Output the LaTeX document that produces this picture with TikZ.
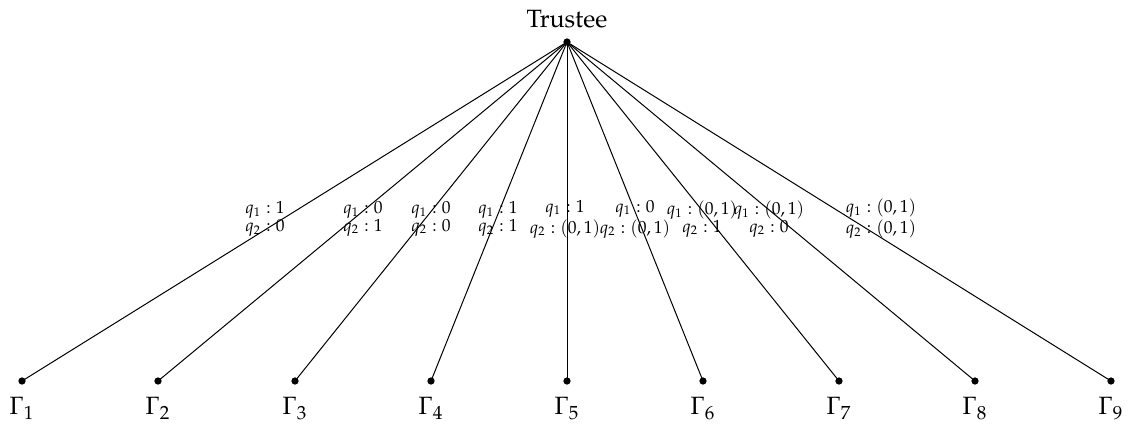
\documentclass[tikz,border=0pt]{standalone}
\usepackage[T1]{fontenc}
\usepackage{mathpazo}
\begin{document}
\begin{tikzpicture}[x=0.4pt,y=-0.4pt,
  dot/.style={circle,fill=black,inner sep=0pt,minimum size=2.9pt},
  leaflabel/.style={anchor=north,inner sep=0pt,font=\normalsize},
  elabel/.style={font=\scriptsize,align=center,inner sep=0pt,
    execute at begin node={\baselineskip=7pt}},
  edge/.style={line width=0.4pt}]
\useasboundingbox (0,0) rectangle (1128,428);
\node[dot] (r) at (567,42) {};
\node[inner sep=0pt] (trustee) at (567,19) {Trustee};
\foreach \i/\x in {1/22,2/158,3/295,4/431,5/567,6/703,7/839,8/975,9/1111}{
  \node[dot] (g\i) at (\x,381) {};
  \node[leaflabel] (lg\i) at (\x,397) {$\Gamma_{\i}$};
  \draw[edge] (r.center) -- (g\i.center);
}
\node[elabel] (e1) at (265,219) {$q_1:1$\\$q_2:0$};
\node[elabel] (e2) at (363,219) {$q_1:0$\\$q_2:1$};
\node[elabel] (e3) at (431,219) {$q_1:0$\\$q_2:0$};
\node[elabel] (e4) at (498,219) {$q_1:1$\\$q_2:1$};
\node[elabel] (e5) at (565,219) {$q_1:1$\\$q_2:(0,1)$};
\node[elabel] (e6) at (635,219) {$q_1:0$\\$q_2:(0,1)$};
\node[elabel] (e7) at (702,219) {$q_1:(0,1)$\\$q_2:1$};
\node[elabel] (e8) at (769,219) {$q_1:(0,1)$\\$q_2:0$};
\node[elabel] (e9) at (881,219) {$q_1:(0,1)$\\$q_2:(0,1)$};
\end{tikzpicture}
\end{document}
